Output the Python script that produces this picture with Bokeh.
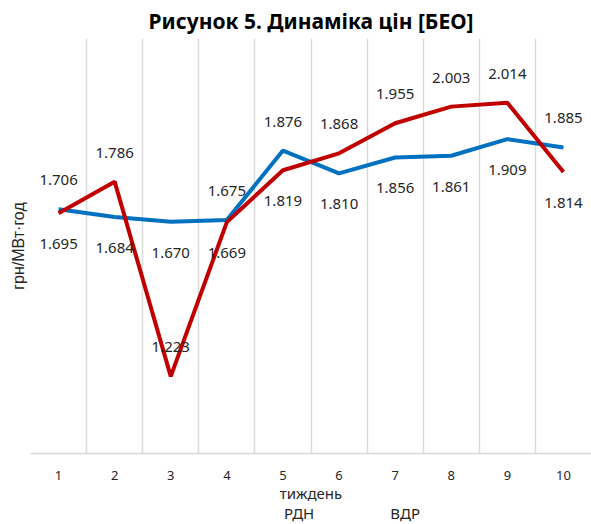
from bokeh.plotting import figure
from bokeh.layouts import column
from bokeh.models import ColumnDataSource, FixedTicker, Legend, LegendItem, Range1d
from bokeh.core.properties import value
from bokeh.embed import file_html
from bokeh.resources import INLINE

weeks = [1, 2, 3, 4, 5, 6, 7, 8, 9, 10]
week_labels = ["1", "2", "3", "4", "5", "6", "7", "8", "9", "10"]
rdn = [1.706, 1.684, 1.670, 1.675, 1.876, 1.810, 1.856, 1.861, 1.909, 1.885]
vdr = [1.695, 1.786, 1.223, 1.669, 1.819, 1.868, 1.955, 2.003, 2.014, 1.814]
rdn_label_pos = ["above", "below", "below", "above", "above", "below", "below", "below", "below", "above"]
vdr_label_pos = ["below", "above", "above", "below", "below", "above", "above", "above", "above", "below"]
series_names = ["РДН", "ВДР"]

BLUE = "#0070C0"
RED = "#C00000"
GRID = "#D9D9D9"
TXT = "#262626"
FONT = "Noto Sans"

p = figure(width=591, height=505, x_range=Range1d(0.5, 10.5), y_range=Range1d(1.0, 2.2),
           output_backend="svg", toolbar_location=None,
           min_border_left=30, min_border_right=0, min_border_top=38, min_border_bottom=52)
p.outline_line_color = None
p.background_fill_color = "white"
p.border_fill_color = "white"

p.title.text = "Рисунок 5. Динаміка цін [БЕО]"
p.title.align = "center"
p.title.text_font = FONT
p.title.text_font_size = "21px"
p.title.text_font_style = "bold"
p.title.text_color = "#000000"
p.title.standoff = 7
p.title.offset = 0

p.xgrid.ticker = FixedTicker(ticks=[w - 0.5 for w in weeks] + [weeks[-1] + 0.5])
p.xgrid.grid_line_color = GRID
p.xgrid.grid_line_width = 1.5
p.ygrid.grid_line_color = None

ax = p.xaxis[0]
ax.ticker = FixedTicker(ticks=weeks)
ax.major_label_overrides = {w: l for w, l in zip(weeks, week_labels)}
ax.axis_line_color = GRID
ax.axis_line_width = 1.5
ax.major_tick_line_color = None
ax.minor_tick_line_color = None
ax.major_tick_out = 0
ax.major_label_text_font = FONT
ax.major_label_text_font_size = "13px"
ax.major_label_text_color = TXT
ax.major_label_standoff = 17
ax.axis_label = "тиждень"
ax.axis_label_text_font = FONT
ax.axis_label_text_font_size = "15px"
ax.axis_label_text_font_style = "normal"
ax.axis_label_text_color = TXT
ax.axis_label_standoff = 0

ay = p.yaxis[0]
ay.ticker = FixedTicker(ticks=[])
ay.axis_line_color = None
ay.major_tick_line_color = None
ay.minor_tick_line_color = None
ay.major_tick_out = 0
ay.major_label_standoff = 0
ay.axis_label = "грн/МВт·год"
ay.axis_label_text_font = "Liberation Sans"
ay.axis_label_text_font_size = "16px"
ay.axis_label_text_font_style = "normal"
ay.axis_label_text_color = TXT
ay.axis_label_standoff = 4

p.line(weeks, rdn, line_color=BLUE, line_width=4)
p.line(weeks, vdr, line_color=RED, line_width=4)

def offs(pos):
    return [-29 if s == "above" else 31 for s in pos]

lab_src = ColumnDataSource(dict(
    x=weeks + weeks,
    y=rdn + vdr,
    t=["%.3f" % v for v in rdn] + ["%.3f" % v for v in vdr],
    yo=offs(rdn_label_pos) + offs(vdr_label_pos),
))
p.text(x="x", y="y", text="t", y_offset="yo", source=lab_src,
       text_align="center", text_baseline="middle", text_font=value(FONT),
       text_font_size="15px", text_color=TXT)

# legend strip below the chart
lf = figure(width=591, height=19, x_range=Range1d(0, 1), y_range=Range1d(0, 1),
            output_backend="svg", toolbar_location=None,
            x_axis_type=None, y_axis_type=None,
            min_border_left=0, min_border_right=0, min_border_top=0, min_border_bottom=0)
lf.outline_line_color = None
lf.xgrid.grid_line_color = None
lf.ygrid.grid_line_color = None
lr1 = lf.line(x=[], y=[], line_color=BLUE, line_width=4)
lr2 = lf.line(x=[], y=[], line_color=RED, line_width=4)
legend = Legend(items=[LegendItem(label=series_names[0], renderers=[lr1]),
                       LegendItem(label=series_names[1], renderers=[lr2])],
                orientation="horizontal", location=(198, 1),
                glyph_width=52, glyph_height=16, label_text_font=FONT,
                label_text_font_size="15px", label_text_color=TXT,
                spacing=20, padding=0, margin=0, label_standoff=4,
                label_height=16,
                border_line_color=None, background_fill_alpha=0)
lf.add_layout(legend)

layout = column(p, lf, spacing=0)
open("out.html", "w").write(file_html(layout, INLINE))
